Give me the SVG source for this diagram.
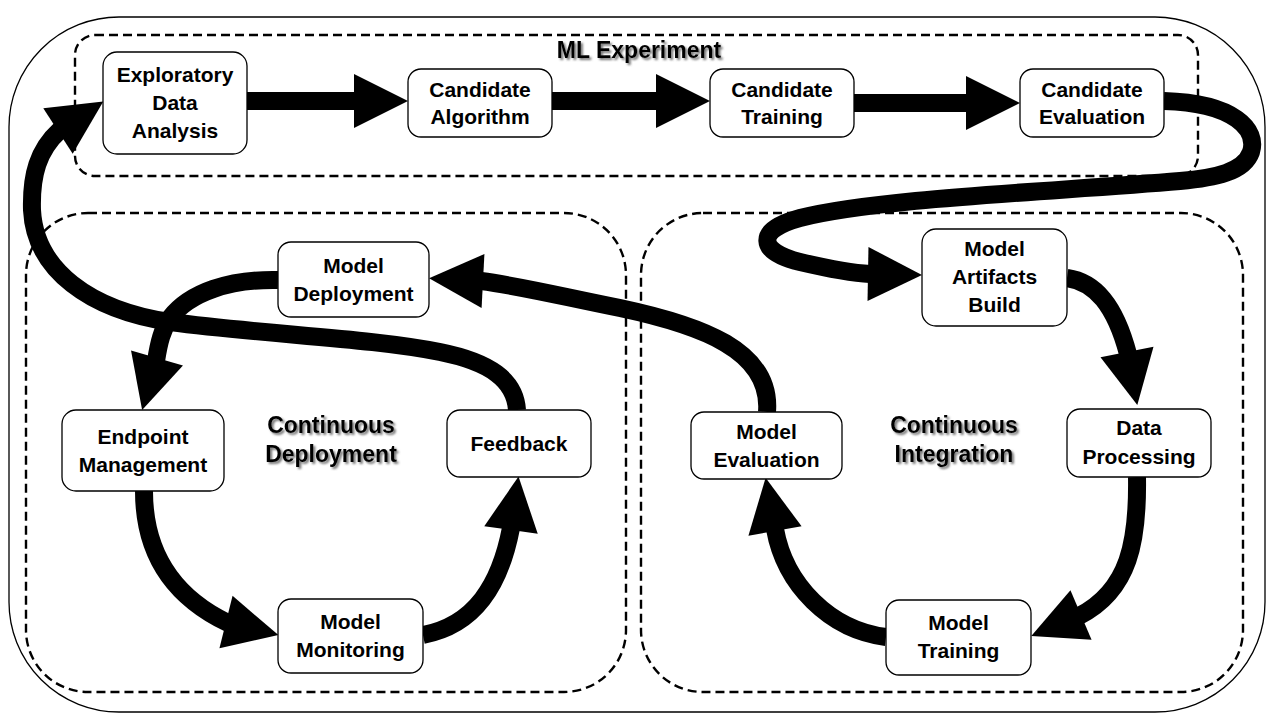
<svg xmlns="http://www.w3.org/2000/svg" xmlns:xlink="http://www.w3.org/1999/xlink" width="1280" height="720" viewBox="0 0 1280 720">
<defs>
<style>
.frame{fill:#fff;stroke:#000;stroke-width:1.3}
.grp{fill:none;stroke:#000;stroke-width:2.4;stroke-dasharray:9 5}
.box{fill:#fff;stroke:#000;stroke-width:1.3}
.n{font-family:"Liberation Sans",Arial,sans-serif;font-weight:bold;font-size:21px;text-anchor:middle;fill:#000}
.g{font-family:"Liberation Sans",Arial,sans-serif;font-weight:bold;font-size:23px;text-anchor:middle;fill:#000}
.shaft{fill:none;stroke:#000;stroke-width:18}
.head{fill:#000}
</style>
<filter id="sh" x="-10%" y="-30%" width="120%" height="160%">
<feDropShadow dx="2" dy="2" stdDeviation="1.3" flood-color="#555" flood-opacity="0.8"/>
</filter>
<path id="ah" d="M0,-27 L54,0 L0,27 Z"/>
</defs>
<rect width="1280" height="720" fill="#fff"/>
<rect class="frame" x="9" y="17" width="1256" height="695" rx="110" ry="110"/>

<g id="group-ml-experiment">
<rect class="grp" x="75" y="35" width="1123" height="141" rx="20" ry="20"/>
<text class="g" x="639" y="58" filter="url(#sh)">ML Experiment</text>
</g>
<g id="group-continuous-deployment">
<rect class="grp" x="26" y="213" width="600" height="479" rx="62" ry="62"/>
<text class="g" x="331" y="433" filter="url(#sh)">Continuous</text>
<text class="g" x="331" y="462" filter="url(#sh)">Deployment</text>
</g>
<g id="group-continuous-integration">
<rect class="grp" x="641" y="213" width="602" height="479" rx="62" ry="62"/>
<text class="g" x="954" y="433" filter="url(#sh)">Continuous</text>
<text class="g" x="954" y="462" filter="url(#sh)">Integration</text>
</g>

<g id="connectors">
<path class="shaft" d="M247,101 H356"/>
<use href="#ah" class="head" transform="translate(354,101)"/>
<path class="shaft" d="M552,101 H658"/>
<use href="#ah" class="head" transform="translate(656,101)"/>
<path class="shaft" d="M854,103 H968"/>
<use href="#ah" class="head" transform="translate(966,103)"/>
<path class="shaft" d="M1164,101 C1235,103 1258,130 1251,152 C1244,172 1215,178 1180,181 C1050,192 880,198 800,218 C755,230 758,252 800,262 C830,269 850,273 870,274"/>
<use href="#ah" class="head" transform="translate(868,274) rotate(1)"/>
<path class="shaft" d="M1067,278 C1095,282 1115,305 1128,354"/>
<use href="#ah" class="head" transform="translate(1127,352) rotate(79)"/>
<path class="shaft" d="M1137,477 C1138,540 1130,590 1079,616"/>
<use href="#ah" class="head" transform="translate(1081,615) rotate(157)"/>
<path class="shaft" d="M886,637 C830,630 785,585 775,529"/>
<use href="#ah" class="head" transform="translate(775,531) rotate(-100)"/>
<path class="shaft" d="M767,412 C772,350 700,325 620,308 C560,296 520,286 481,281"/>
<use href="#ah" class="head" transform="translate(483,281) rotate(183)"/>
<path class="shaft" d="M278,280 C230,279 190,292 170,318 C162,330 159,342 156,361"/>
<use href="#ah" class="head" transform="translate(157,358) rotate(106)"/>
<path class="shaft" d="M144,491 C144,560 180,600 228,623"/>
<use href="#ah" class="head" transform="translate(226,622) rotate(14)"/>
<path class="shaft" d="M423,635 C475,625 500,585 511,528"/>
<use href="#ah" class="head" transform="translate(511,530) rotate(-82)"/>
<path class="shaft" d="M517,410 C515,380 490,362 440,352 C370,338 270,335 170,322 C90,310 35,270 32,210 C31,175 38,150 60,130"/>
<use href="#ah" class="head" transform="translate(58,131) rotate(-33)"/>
</g>

<g id="node-exploratory-data-analysis">
<rect class="box" x="103" y="52" width="144" height="102" rx="14"/>
<text class="n" x="175" y="82">Exploratory</text>
<text class="n" x="175" y="110">Data</text>
<text class="n" x="175" y="138">Analysis</text>
</g>
<g id="node-candidate-algorithm">
<rect class="box" x="408" y="69" width="144" height="68" rx="13"/>
<text class="n" x="480" y="97">Candidate</text>
<text class="n" x="480" y="124">Algorithm</text>
</g>
<g id="node-candidate-training">
<rect class="box" x="710" y="69" width="144" height="68" rx="13"/>
<text class="n" x="782" y="97">Candidate</text>
<text class="n" x="782" y="124">Training</text>
</g>
<g id="node-candidate-evaluation">
<rect class="box" x="1020" y="69" width="144" height="68" rx="13"/>
<text class="n" x="1092" y="97">Candidate</text>
<text class="n" x="1092" y="124">Evaluation</text>
</g>
<g id="node-model-deployment">
<rect class="box" x="278" y="242" width="151" height="75" rx="13"/>
<text class="n" x="353.5" y="273">Model</text>
<text class="n" x="353.5" y="301">Deployment</text>
</g>
<g id="node-model-artifacts-build">
<rect class="box" x="922" y="229" width="145" height="97" rx="14"/>
<text class="n" x="994.5" y="256">Model</text>
<text class="n" x="994.5" y="284">Artifacts</text>
<text class="n" x="994.5" y="312">Build</text>
</g>
<g id="node-endpoint-management">
<rect class="box" x="62" y="410" width="162" height="81" rx="14"/>
<text class="n" x="143" y="444">Endpoint</text>
<text class="n" x="143" y="472">Management</text>
</g>
<g id="node-feedback">
<rect class="box" x="447" y="410" width="144" height="67" rx="13"/>
<text class="n" x="519" y="451">Feedback</text>
</g>
<g id="node-model-monitoring">
<rect class="box" x="278" y="599" width="145" height="74" rx="13"/>
<text class="n" x="350.5" y="629">Model</text>
<text class="n" x="350.5" y="657">Monitoring</text>
</g>
<g id="node-model-evaluation">
<rect class="box" x="691" y="412" width="151" height="67" rx="13"/>
<text class="n" x="766.5" y="439">Model</text>
<text class="n" x="766.5" y="467">Evaluation</text>
</g>
<g id="node-data-processing">
<rect class="box" x="1067" y="409" width="144" height="68" rx="13"/>
<text class="n" x="1139" y="435">Data</text>
<text class="n" x="1139" y="464">Processing</text>
</g>
<g id="node-model-training">
<rect class="box" x="886" y="600" width="145" height="75" rx="13"/>
<text class="n" x="958.5" y="630">Model</text>
<text class="n" x="958.5" y="658">Training</text>
</g>
</svg>
